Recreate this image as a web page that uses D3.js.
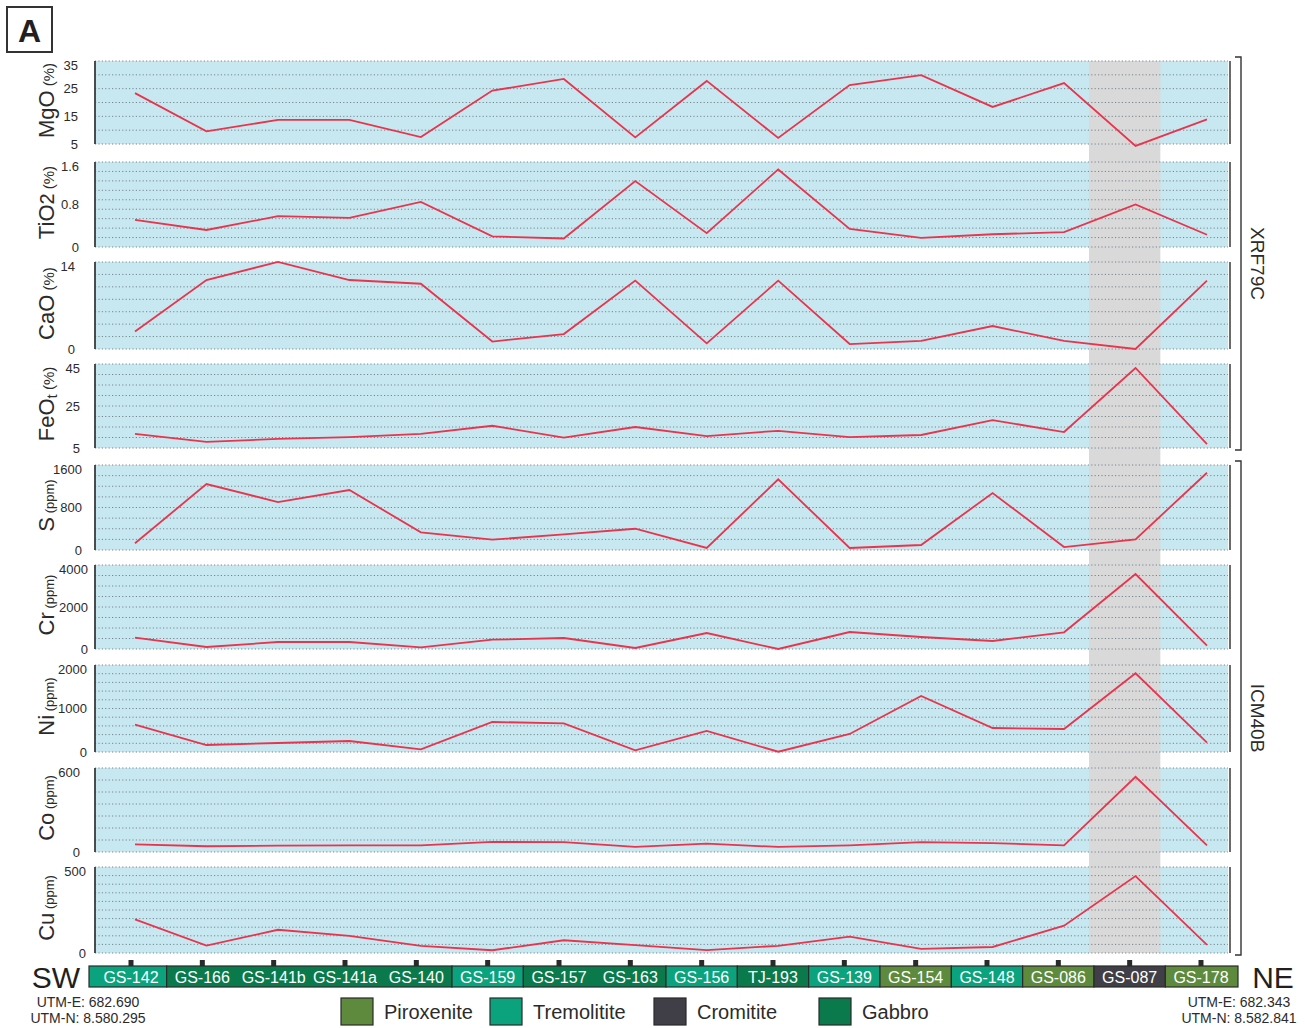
<!DOCTYPE html>
<html><head><meta charset="utf-8">
<script src="https://cdn.jsdelivr.net/npm/d3@7/dist/d3.min.js"></script>
<style>
html,body{margin:0;padding:0;background:#fff;}
svg{display:block;font-family:"Liberation Sans",Arial,Helvetica,sans-serif;}
</style></head><body>
<svg id="c" width="1305" height="1028"></svg>
<script>
// ---------- DATA ----------
const samples = ["GS-142","GS-166","GS-141b","GS-141a","GS-140","GS-159","GS-157","GS-163","GS-156","TJ-193","GS-139","GS-154","GS-148","GS-086","GS-087","GS-178"];
const rockTypes = ["Tremolitite","Gabbro","Gabbro","Gabbro","Gabbro","Tremolitite","Gabbro","Gabbro","Tremolitite","Gabbro","Tremolitite","Piroxenite","Tremolitite","Piroxenite","Cromitite","Piroxenite"];
const legendTypes = ["Piroxenite","Tremolitite","Cromitite","Gabbro"];
const highlightSample = "GS-087";

const MgO  = [23.4, 9.6, 13.7, 13.7, 7.5, 24.3, 28.5, 7.4, 27.8, 7.2, 26.3, 29.9, 18.4, 27.0, 4.3, 13.9];
const TiO2 = [0.51, 0.32, 0.58, 0.55, 0.85, 0.20, 0.16, 1.24, 0.26, 1.46, 0.34, 0.17, 0.24, 0.28, 0.80, 0.23];
const CaO  = [2.8, 11.1, 14.0, 11.1, 10.5, 1.2, 2.4, 11.0, 0.9, 11.0, 0.8, 1.3, 3.7, 1.3, 0.0, 11.0];
const FeOt = [11.7, 7.9, 9.3, 10.2, 11.7, 15.6, 9.9, 15.0, 10.7, 13.2, 10.2, 11.2, 18.3, 12.6, 43.1, 6.9];
const S    = [126, 1242, 903, 1129, 333, 194, 295, 400, 38, 1330, 38, 94, 1072, 56, 201, 1454];
const Cr   = [538, 95, 333, 333, 75, 443, 524, 48, 762, 0, 809, 571, 381, 795, 3570, 157];
const Ni   = [628, 161, 207, 253, 62, 690, 660, 40, 485, 7, 414, 1288, 552, 529, 1810, 214];
const Co   = [55, 41, 45, 48, 48, 72, 70, 36, 60, 36, 48, 70, 63, 48, 537, 48];
const Cu   = [196, 43, 135, 100, 41, 16, 74, 46, 17, 42, 95, 24, 35, 159, 447, 47];

const seriesNames = ["MgO","TiO2","CaO","FeOt","S","Cr","Ni","Co","Cu"];
const seriesValues = [MgO, TiO2, CaO, FeOt, S, Cr, Ni, Co, Cu];
const seriesUnits = ["(%)","(%)","(%)","(%)","(ppm)","(ppm)","(ppm)","(ppm)","(ppm)"];
const domains = [[5,35],[0,1.6],[0,14],[5,45],[0,1600],[0,4000],[0,2000],[0,600],[0,500]];
const tickLabels = [[5,15,25,35],[0,0.8,1.6],[0,14],[5,25,45],[0,800,1600],[0,2000,4000],[0,1000,2000],[0,600],[0,500]];
const gridIntervals = [6,9,7,8,8,8,10,7,10];
const groups = [{name:"XRF79C", from:0, to:3},{name:"ICM40B", from:4, to:8}];
const endLabels = {left:"SW", right:"NE"};
const utmLeft = ["UTM-E: 682.690","UTM-N: 8.580.295"];
const utmRight = ["UTM-E: 682.343","UTM-N: 8.582.841"];

// ---------- LAYOUT / STYLE ----------
const panelTops    = [61,162,262,364,465,565,665,768,867];
const panelBottoms = [144,247,349,448,550,649,752,852,953];
const tickX = [78,79,75,80,82,88,87,80,86];
const plotL = 95, plotR = 1228;
const typeColors = {Piroxenite:"#5e8a3e", Tremolitite:"#0aa37d", Cromitite:"#403f48", Gabbro:"#0a7a4d"};
const txt = "#2b2b2b";

const svg = d3.select("#c");

const xTick = d3.scalePoint().domain(samples).range([131, 1201]);
const xData = d3.scalePoint().domain(samples).range([135, 1207]);

const bounds = [89];
for (let i = 0; i < samples.length - 1; i++) bounds.push((xTick(samples[i]) + xTick(samples[i+1])) / 2);
bounds.push(1238);
const hi = samples.indexOf(highlightSample);

const panelG = svg.append("g");
seriesNames.forEach((n, k) => {
  panelG.append("rect").attr("x", plotL).attr("y", panelTops[k])
    .attr("width", plotR - plotL).attr("height", panelBottoms[k] - panelTops[k])
    .attr("fill", "#c8e8f1");
});

svg.append("rect").attr("x", bounds[hi] - 5).attr("y", panelTops[0])
  .attr("width", bounds[hi+1] - bounds[hi]).attr("height", panelBottoms[8] - panelTops[0])
  .attr("fill", "#d9d9d9");

seriesNames.forEach((n, k) => {
  const top = panelTops[k], bot = panelBottoms[k];
  const y = d3.scaleLinear().domain(domains[k]).range([bot, top]);
  const g = svg.append("g");
  const gi = gridIntervals[k];
  const d0 = domains[k][0], d1 = domains[k][1];
  d3.range(gi + 1).forEach(j => {
    const v = d0 + (d1 - d0) * j / gi;
    g.append("line").attr("x1", plotL).attr("x2", plotR)
      .attr("y1", y(v)).attr("y2", y(v))
      .attr("stroke", "#76868d").attr("stroke-width", 1)
      .attr("stroke-dasharray", "1.2,2.2");
  });
  g.append("line").attr("x1", plotL).attr("x2", plotL).attr("y1", top).attr("y2", bot)
    .attr("stroke", "#3a3a3a").attr("stroke-width", 1.8);
  g.append("line").attr("x1", 1230).attr("x2", 1230).attr("y1", top).attr("y2", bot)
    .attr("stroke", "#3a3a3a").attr("stroke-width", 1.5);
  tickLabels[k].forEach(v => {
    let yy = y(v);
    yy = Math.max(top + 4, Math.min(bot, yy));
    g.append("text").attr("x", tickX[k]).attr("y", yy).attr("dy", "0.35em")
      .attr("text-anchor", "end").attr("font-size", 13).attr("fill", txt).text(v);
  });
  const cy = (top + bot) / 2 - 2;
  const t = g.append("text").attr("transform", `translate(54,${cy}) rotate(-90)`)
    .attr("text-anchor", "middle").attr("fill", txt);
  if (n === "TiO2") {
    t.append("tspan").attr("font-size", 22).text("TiO");
    t.append("tspan").attr("font-size", 20).text("2");
  } else if (n === "FeOt") {
    t.append("tspan").attr("font-size", 22).text("FeO");
    t.append("tspan").attr("font-size", 15).attr("dy", 3).text("t");
  } else {
    t.append("tspan").attr("font-size", 22).text(n);
  }
  t.append("tspan").attr("font-size", seriesUnits[k] === "(%)" ? 15 : 13)
    .attr("dy", n === "FeOt" ? -3 : 0).text(" " + seriesUnits[k]);
  const line = d3.line().x((d, i) => xData(samples[i])).y(d => y(d));
  g.append("path").datum(seriesValues[k]).attr("d", line)
    .attr("fill", "none").attr("stroke", "#e8344c").attr("stroke-width", 1.8)
    .attr("stroke-linejoin", "miter");
});

groups.forEach(gp => {
  const y0 = panelTops[gp.from] - 4, y1 = panelBottoms[gp.to] + 2;
  const bx = 1241;
  svg.append("path").attr("d", `M${bx-6},${y0}H${bx}V${y1}H${bx-6}`)
    .attr("fill", "none").attr("stroke", "#333").attr("stroke-width", 1.4);
  svg.append("text").attr("transform", `translate(1251,${(y0+y1)/2 + 10}) rotate(90)`)
    .attr("text-anchor", "middle").attr("font-size", 19).attr("fill", txt).text(gp.name);
});

samples.forEach(s => {
  svg.append("rect").attr("x", xTick(s) - 2.5).attr("y", 960).attr("width", 5).attr("height", 7).attr("fill", "#2a2a2a");
});
let start = 0;
for (let i = 1; i <= samples.length; i++) {
  if (i === samples.length || rockTypes[i] !== rockTypes[start]) {
    svg.append("rect").attr("x", bounds[start]).attr("y", 966)
      .attr("width", bounds[i] - bounds[start]).attr("height", 21)
      .attr("fill", typeColors[rockTypes[start]]).attr("stroke", "#2a2a2a").attr("stroke-width", 1.2);
    start = i;
  }
}
samples.forEach(s => {
  svg.append("text").attr("x", xTick(s)).attr("y", 977).attr("dy", "0.36em")
    .attr("text-anchor", "middle").attr("font-size", 16).attr("fill", "#fff").text(s);
});

svg.append("text").attr("x", 56).attr("y", 977).attr("dy", "0.36em").attr("text-anchor", "middle")
  .attr("font-size", 30).attr("fill", "#231f20").text(endLabels.left);
svg.append("text").attr("x", 1273).attr("y", 977).attr("dy", "0.36em").attr("text-anchor", "middle")
  .attr("font-size", 30).attr("fill", "#231f20").text(endLabels.right);

utmLeft.forEach((s, i) => svg.append("text").attr("x", 88).attr("y", 1002 + i * 16).attr("dy", "0.35em")
  .attr("text-anchor", "middle").attr("font-size", 14).attr("fill", txt).text(s));
utmRight.forEach((s, i) => svg.append("text").attr("x", 1239).attr("y", 1002 + i * 16).attr("dy", "0.35em")
  .attr("text-anchor", "middle").attr("font-size", 14).attr("fill", txt).text(s));

const legX = [341, 490, 654, 819];
legendTypes.forEach((t, i) => {
  svg.append("rect").attr("x", legX[i]).attr("y", 998).attr("width", 32).attr("height", 27)
    .attr("fill", typeColors[t]).attr("stroke", "#2a2a2a").attr("stroke-width", 1.2);
  svg.append("text").attr("x", legX[i] + 43).attr("y", 1011.5).attr("dy", "0.36em")
    .attr("font-size", 20).attr("fill", txt).text(t);
});

svg.append("rect").attr("x", 7).attr("y", 7).attr("width", 45).attr("height", 45)
  .attr("fill", "#fff").attr("stroke", "#333").attr("stroke-width", 2);
svg.append("text").attr("x", 29.5).attr("y", 30).attr("dy", "0.36em").attr("text-anchor", "middle")
  .attr("font-size", 32).attr("font-weight", "bold").attr("fill", "#231f20").text("A");
</script>
</body></html>
